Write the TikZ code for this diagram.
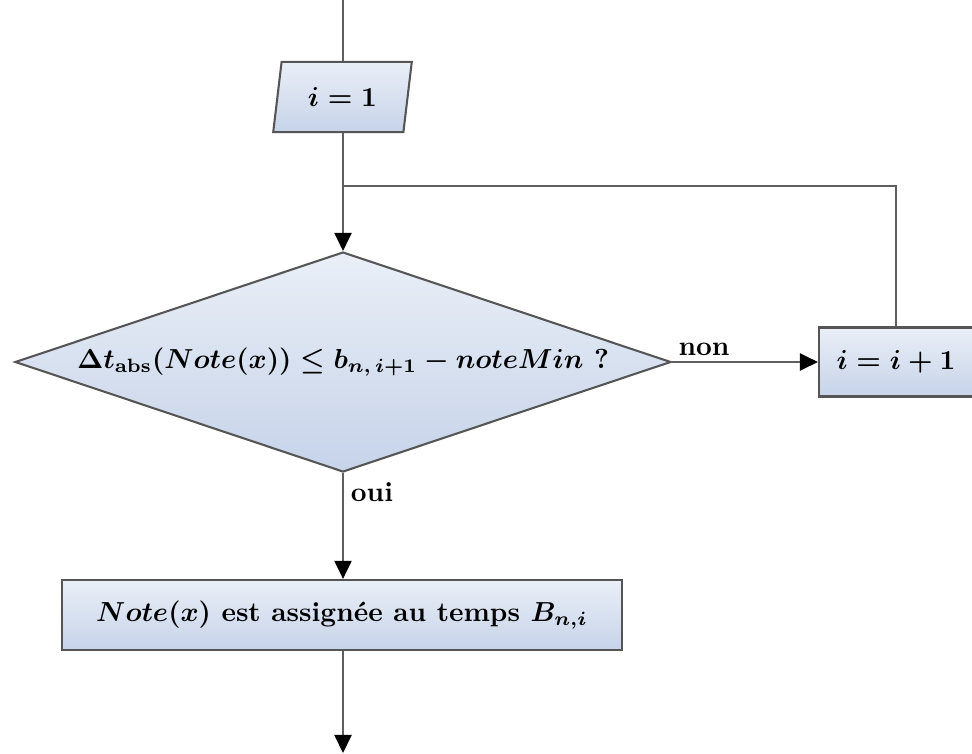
\documentclass[tikz,border=0pt]{standalone}
\usetikzlibrary{shapes.geometric,arrows.meta}

\definecolor{shapetop}{RGB}{234,239,247}
\definecolor{shapebot}{RGB}{198,211,233}
\definecolor{edgegray}{RGB}{85,85,85}
\definecolor{linegray}{RGB}{95,95,95}

\tikzset{
  flowfill/.style={draw=edgegray, line width=0.75pt, top color=shapetop, bottom color=shapebot,
    font=\bfseries\boldmath, inner sep=0pt},
  iobox/.style={flowfill, trapezium, trapezium left angle=76, trapezium right angle=104,
    trapezium stretches=true, minimum width=50.5pt, minimum height=25.5pt},
  procbox/.style={flowfill, rectangle},
  testbox/.style={flowfill, diamond, aspect=2.96},
  conn/.style={draw=linegray, line width=0.85pt},
  arr/.style={conn, -{Triangle[length=6.6pt,width=6.2pt,fill=black,color=black]}},
  tag/.style={font=\bfseries, inner sep=0pt}
}

\begin{document}
% one unit = one pixel of the 972 x 753 layout
\begin{tikzpicture}[x=0.3636pt,y=-0.3636pt]
  \useasboundingbox (0,0) rectangle (972,753);

  % nodes
  \coordinate (start) at (343,0);
  \node[iobox] (init) at (342.5,97) {$i=1$};
  \coordinate (join) at (343,186);
  \node[testbox, minimum width=238.5pt, minimum height=80pt] (test) at (343,362)
    {$\Delta t_{\mathrm{abs}}(Note(x)) \leq b_{n,\,i+1} - noteMin$ ?};
  \node[procbox, minimum width=56pt, minimum height=25.1pt] (incr) at (896,362) {$i=i+1$};
  \node[procbox, minimum width=203.6pt, minimum height=25.5pt] (assign) at (342,615)
    {$Note(x)$ est assignée au temps $B_{n,i}$};
  \coordinate (stop) at (343,753);

  % connectors
  \draw[conn] (start) -- (init.north -| start);
  \draw[conn] (init.south -| start) -- (join);
  \draw[arr] (join) -- (test.north);
  \draw[conn] (incr.north) |- (join);
  \draw[arr] (test.east) -- (incr.west);
  \draw[arr] (test.south) -- (assign.north -| test.south);
  \draw[arr] (assign.south -| stop) -- (stop);

  % branch labels
  \node[tag, anchor=south west] (lnon) at (678,356) {non};
  \node[tag] (loui) at (372,492) {oui};
\end{tikzpicture}
\end{document}
